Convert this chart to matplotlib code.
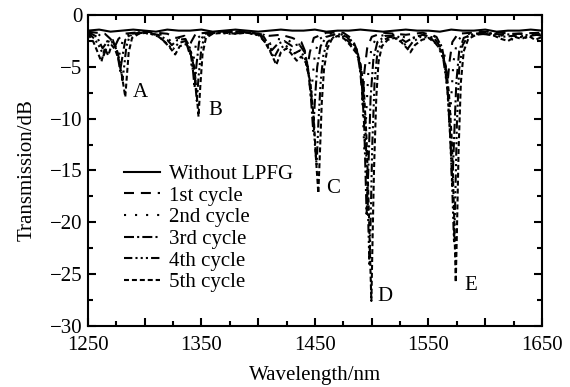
import matplotlib
matplotlib.use("Agg")
import matplotlib.pyplot as plt
from matplotlib.ticker import MultipleLocator, FuncFormatter

plt.rcParams['font.family'] = ['Liberation Serif', 'DejaVu Serif']
plt.rcParams['font.size'] = 15

# Without LPFG (solid)
wl_0 = [1250, 1260, 1270, 1280, 1290, 1300, 1310, 1320, 1330, 1340, 1350, 1360, 1370, 1380,
        1390, 1400, 1410, 1420, 1430, 1440, 1450, 1460, 1470, 1480, 1490, 1500, 1510, 1520,
        1530, 1540, 1550, 1560, 1570, 1580, 1590, 1600, 1610, 1620, 1630, 1640, 1650]
t_0 = [-1.5, -1.4, -1.6, -1.5, -1.4, -1.5, -1.6, -1.4, -1.5, -1.5, -1.4, -1.6, -1.5, -1.4,
       -1.5, -1.6, -1.5, -1.4, -1.5, -1.5, -1.4, -1.6, -1.5, -1.5, -1.4, -1.5, -1.6, -1.5,
       -1.4, -1.5, -1.5, -1.6, -1.4, -1.5, -1.5, -1.4, -1.6, -1.5, -1.5, -1.4, -1.5]

# 1st cycle
wl_1 = [1250, 1265, 1270, 1274, 1277, 1282, 1300, 1320, 1328, 1335, 1339, 1341, 1345, 1365,
        1390, 1410, 1420, 1430, 1438, 1441, 1443.5, 1445.5, 1449, 1460, 1475, 1483, 1487, 1490,
        1492, 1493.5, 1496, 1500, 1510, 1530, 1545, 1557, 1562, 1565, 1567, 1568.5, 1571, 1576,
        1600, 1625, 1650]
t_1 = [-1.6, -1.8, -2.3, -3.0, -2.3, -1.8, -1.6, -1.8, -2.2, -2.0, -3.5, -2.6, -1.8, -1.6,
       -1.6, -2.0, -1.9, -2.2, -2.6, -3.4, -5.0, -3.6, -2.2, -1.7, -1.7, -2.3, -3.4, -5.5,
       -8.2, -5.5, -3.2, -2.1, -1.7, -1.9, -1.7, -2.1, -3.2, -5.0, -6.3, -4.5, -2.6, -1.8,
       -1.6, -1.8, -1.7]

# 2nd cycle
wl_2 = [1250, 1260, 1266, 1271, 1275, 1277, 1279, 1282, 1290, 1305, 1318, 1324, 1330, 1337,
        1340, 1342, 1343.5, 1346, 1352, 1370, 1390, 1405, 1411, 1416, 1426, 1433, 1439, 1442,
        1444.5, 1446.5, 1448, 1450, 1454, 1462, 1472, 1480, 1486, 1489, 1491.5, 1493.5, 1495,
        1497, 1500, 1505, 1515, 1528, 1534, 1542, 1555, 1560, 1564, 1566.5, 1568.5, 1570,
        1572, 1575, 1580, 1592, 1610, 1625, 1635, 1650]
t_2 = [-1.6, -1.9, -2.6, -2.3, -3.2, -4.3, -3.1, -2.1, -1.7, -1.6, -2.0, -2.6, -2.2, -2.4,
       -3.6, -5.5, -4.0, -2.3, -1.7, -1.6, -1.7, -1.9, -2.8, -2.3, -2.4, -2.9, -2.8, -3.8,
       -5.6, -8.1, -6.0, -3.7, -2.3, -1.8, -1.8, -2.2, -3.0, -4.5, -7.5, -13.0, -10.0,
       -5.5, -3.0, -2.1, -1.8, -2.1, -2.4, -1.9, -2.0, -2.6, -3.8, -6.5, -11.0, -8.0,
       -4.5, -2.6, -1.9, -1.7, -1.8, -2.4, -1.9, -1.8]

# 3rd cycle
wl_3 = [1250, 1258, 1263, 1267, 1272, 1276, 1278.5, 1280.5, 1283, 1288, 1300, 1312, 1320,
        1324, 1329, 1336, 1340, 1342.5, 1344, 1345.5, 1348, 1353, 1365, 1380, 1395, 1405,
        1412, 1417, 1423, 1430, 1436, 1441, 1444, 1446.5, 1448.5, 1450, 1452, 1455, 1460,
        1470, 1478, 1484, 1488, 1491, 1493.5, 1495.5, 1497, 1499, 1501.5, 1505, 1512, 1522,
        1530, 1536, 1545, 1555, 1560, 1564, 1567, 1569.5, 1571, 1572.5, 1574.5, 1577, 1581,
        1590, 1600, 1615, 1630, 1640, 1650]
t_3 = [-1.6, -2.1, -3.2, -2.6, -2.4, -3.6, -5.4, -4.0, -2.4, -1.8, -1.7, -1.9, -2.4,
       -2.9, -2.4, -2.3, -3.2, -5.2, -7.0, -5.0, -2.6, -1.8, -1.7, -1.6, -1.7, -2.1,
       -3.4, -2.8, -2.5, -3.0, -2.8, -3.6, -5.2, -8.0, -11.2, -8.2, -5.0, -3.0, -2.1,
       -1.8, -2.1, -2.8, -3.8, -6.0, -11.0, -19.2, -15.0, -8.0, -4.2, -2.6, -2.0, -2.0,
       -2.6, -2.2, -1.9, -2.2, -3.0, -4.5, -7.5, -12.5, -16.5, -12.0, -6.5, -3.5, -2.2,
       -1.8, -1.7, -1.9, -1.8, -2.0, -1.8]

# 4th cycle
wl_4 = [1250, 1256, 1260, 1264, 1267, 1271, 1275, 1278, 1280.5, 1282, 1284, 1287, 1295,
        1305, 1313, 1319, 1325, 1330, 1336, 1340, 1343, 1345, 1346, 1347.5, 1350, 1353,
        1362, 1375, 1390, 1402, 1408, 1414, 1418, 1424, 1428, 1432, 1437, 1441, 1445, 1448,
        1450, 1451.5, 1453, 1455, 1457.5, 1461, 1468, 1475, 1480, 1485, 1489, 1492, 1494.5,
        1496.5, 1498, 1499, 1500.5, 1502.5, 1505, 1509, 1516, 1524, 1529, 1532, 1536, 1543,
        1552, 1558, 1563, 1566.5, 1569, 1571, 1572.5, 1573.5, 1575, 1577, 1580, 1585, 1595,
        1605, 1615, 1625, 1635, 1645, 1650]
t_4 = [-1.7, -2.3, -3.0, -3.9, -3.0, -2.6, -3.1, -4.4, -6.3, -5.0, -3.0, -2.0, -1.7,
       -1.8, -2.1, -2.7, -3.3, -2.7, -2.5, -3.3, -4.8, -7.0, -8.3, -6.0, -3.2, -2.0,
       -1.7, -1.8, -1.7, -2.0, -2.9, -4.1, -3.3, -2.9, -3.3, -3.7, -3.4, -4.1, -6.0, -9.0,
       -12.5, -14.5, -10.5, -6.5, -3.8, -2.6, -2.0, -2.1, -2.6, -3.2, -4.2, -6.3, -11.0,
       -18.0, -24.2, -20.0, -12.5, -6.5, -3.6, -2.5, -2.1, -2.3, -2.8, -3.2, -2.6, -2.1,
       -2.2, -2.9, -4.2, -7.0, -11.5, -17.0, -22.0, -18.0, -10.5, -5.2, -2.9, -2.0, -1.8,
       -1.9, -2.1, -2.0, -2.2, -1.9, -2.0]

# 5th cycle
wl_5 = [1250, 1255, 1258, 1262, 1265, 1268, 1271, 1274, 1277, 1280, 1282, 1283, 1284, 1286,
        1289, 1295, 1302, 1310, 1316, 1322, 1327, 1331, 1337, 1341, 1344, 1346, 1347.5, 1349,
        1351, 1354, 1360, 1370, 1380, 1390, 1400, 1406, 1411, 1416, 1420, 1425, 1429, 1434,
        1438, 1442, 1446, 1449, 1451, 1453, 1454.5, 1456, 1458, 1461, 1465, 1470, 1476, 1481,
        1486, 1490, 1493, 1495.5, 1497.5, 1499, 1499.7, 1500.5, 1502, 1504, 1506, 1509, 1514,
        1520, 1526, 1531, 1534, 1538, 1544, 1550, 1556, 1561, 1565, 1568, 1570.5, 1572.5, 1574,
        1575, 1576.5, 1578.5, 1581, 1585, 1592, 1600, 1608, 1614, 1620, 1626, 1632, 1638, 1644,
        1650]
t_5 = [-1.8, -2.6, -3.4, -4.5, -3.2, -3.9, -2.9, -3.3, -4.2, -5.8, -7.2, -7.9, -6.5, -3.6,
       -2.2, -1.8, -1.7, -1.9, -2.4, -3.1, -3.8, -3.0, -2.8, -3.6, -5.2, -7.8, -9.8, -7.0,
       -3.8, -2.2, -1.8, -1.7, -1.8, -1.7, -1.9, -2.6, -3.6, -4.8, -3.6, -3.2, -3.7, -4.4,
       -4.0, -4.6, -6.5, -10.0, -14.0, -17.2, -13.0, -8.5, -5.2, -3.2, -2.3, -2.0, -2.3, -2.9,
       -3.6, -4.6, -7.0, -12.0, -19.0, -25.0, -27.6, -23.0, -15.0, -8.0, -4.5, -3.0, -2.4,
       -2.2, -2.6, -3.2, -3.6, -2.9, -2.4, -2.2, -2.7, -3.4, -4.8, -7.5, -12.0, -19.0, -25.8,
       -21.0, -13.0, -6.5, -3.5, -2.3, -1.9, -1.8, -2.0, -2.3, -2.5, -2.1, -2.3, -2.0, -2.4,
       -2.1]

labels = ["Without LPFG", "1st cycle", "2nd cycle", "3rd cycle", "4th cycle", "5th cycle"]
dashes = [None, (4.8, 3.3), (1, 4.3), (4.8, 1.5, 1, 1.5),
          (4, 1.5, 1, 1.5, 1, 1.5, 1, 1.5), (2.4, 1.4)]

# dip labels
peak_names = ["A", "B", "C", "D", "E"]
peak_x = [1296, 1362, 1466, 1512, 1587]
peak_y = [-7.5, -9.2, -16.7, -27.2, -26.1]

fig = plt.figure(figsize=(5.7, 3.87), dpi=100)
ax = fig.add_axes([0.154, 0.158, 0.797, 0.803])

series = [(wl_0, t_0), (wl_1, t_1), (wl_2, t_2), (wl_3, t_3), (wl_4, t_4), (wl_5, t_5)]
for (x, y), lab, d in zip(series, labels, dashes):
    line, = ax.plot(x, y, color='black', lw=1.5, label=lab)
    if d is not None:
        line.set_dashes(d)

for name, px, py in zip(peak_names, peak_x, peak_y):
    ax.text(px, py, name, ha='center', va='center', fontsize=15)

ax.set_xlim(1250, 1650)
ax.set_ylim(-30, 0)
ax.xaxis.set_major_locator(MultipleLocator(50))
ax.xaxis.set_minor_locator(MultipleLocator(25))
ax.xaxis.set_major_formatter(FuncFormatter(
    lambda v, p: "%d" % v if int(round(v - 1250)) % 100 == 0 else ""))
ax.yaxis.set_major_locator(MultipleLocator(5))
ax.yaxis.set_minor_locator(MultipleLocator(2.5))
ax.tick_params(which='both', direction='in', top=True, right=True, width=1.5)
ax.tick_params(which='major', length=6, labelsize=15)
ax.tick_params(axis='x', which='major', pad=7)
ax.tick_params(axis='y', which='major', pad=4)
ax.tick_params(which='minor', length=3.5)
for s in ax.spines.values():
    s.set_linewidth(1.5)

ax.set_xlabel("Wavelength/nm", fontsize=15, labelpad=8)
ax.set_ylabel("Transmission/dB", fontsize=15, labelpad=9)

ax.legend(loc='upper left', bbox_to_anchor=(0.08, 0.52), frameon=False,
          fontsize=15, handlelength=1.7, handletextpad=0.45, labelspacing=0.1,
          borderpad=0, borderaxespad=0)

plt.savefig("out.png", dpi=100)
